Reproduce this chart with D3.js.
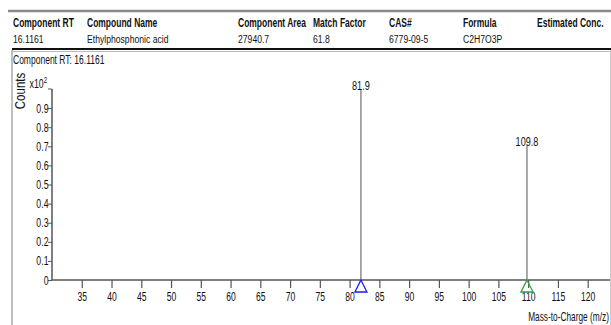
<!DOCTYPE html>
<html>
<head>
<meta charset="utf-8">
<script src="https://cdn.jsdelivr.net/npm/d3@7"></script>
<style>
  html, body { margin: 0; padding: 0; background: #fff; }
  svg { display: block; }
  text { font-family: "Liberation Sans", Arial, sans-serif; fill: #111; }
</style>
</head>
<body>
<svg id="chart" width="611" height="325"></svg>
<script>
// Compound summary table
const headerLabels = ["Component RT", "Compound Name", "Component Area", "Match Factor", "CAS#", "Formula", "Estimated Conc."];
const headerValues = ["16.1161", "Ethylphosphonic acid", "27940.7", "61.8", "6779-09-5", "C2H7O3P", ""];

// Spectrum peaks (m/z and relative abundance, x10^2 counts)
const peakMz = [81.9, 109.8];
const peakCounts = [1.0, 0.705];
const peakMarkerColors = ["#1a1aff", "#2ea043"];

// Axis ticks
const xTicks = [35, 40, 45, 50, 55, 60, 65, 70, 75, 80, 85, 90, 95, 100, 105, 110, 115, 120];
const yTicks = [0, 0.1, 0.2, 0.3, 0.4, 0.5, 0.6, 0.7, 0.8, 0.9];

// Narrow report typeface: regular sans squeezed horizontally
const svg = d3.select("#chart");

function label(parent, x0, y0, txt, opts = {}) {
  const t = parent.append("text")
    .attr("transform", `translate(${x0},${y0}) scale(${opts.sq || 0.75},1)`)
    .attr("font-size", opts.size || 11.5)
    .attr("text-anchor", opts.anchor || "start")
    .text(txt);
  if (opts.bold) t.attr("font-weight", "bold");
  return t;
}

// Header: grey rule, column labels and values
const colX = [13, 87, 238, 313, 389, 463, 537];
svg.append("line").attr("x1", 8).attr("x2", 611).attr("y1", 11).attr("y2", 11)
  .attr("stroke", "#8a8a8a").attr("stroke-width", 2.5);

headerLabels.forEach((d, i) => label(svg, colX[i], 27, d, { size: 12.5, bold: true, sq: 0.68 }));
headerValues.forEach((d, i) => { if (d) label(svg, colX[i], 43, d, { size: 11.5, sq: 0.75 }); });

// Spectrum panel frame
svg.append("line").attr("x1", 12).attr("x2", 611).attr("y1", 49).attr("y2", 49)
  .attr("stroke", "#111").attr("stroke-width", 2);
svg.append("line").attr("x1", 12).attr("x2", 611).attr("y1", 51.5).attr("y2", 51.5)
  .attr("stroke", "#bbb").attr("stroke-width", 1);
svg.append("line").attr("x1", 12).attr("x2", 12).attr("y1", 50).attr("y2", 325)
  .attr("stroke", "#aaa").attr("stroke-width", 1.5);
svg.append("line").attr("x1", 610.5).attr("x2", 610.5).attr("y1", 50).attr("y2", 325)
  .attr("stroke", "#ccc").attr("stroke-width", 1);

label(svg, 13, 64, "Component RT: 16.1161", { size: 12, sq: 0.71 });

// Scales
const x = d3.scaleLinear().domain([30, 123.75]).range([52, 610]);
const y = d3.scaleLinear().domain([0, 1.0]).range([280, 89]);

// Y axis
const yAxis = d3.axisLeft(y).tickValues(yTicks).tickSize(4).tickPadding(1)
  .tickFormat(d => d === 0 ? "0" : d3.format(".1f")(d));
const gy = svg.append("g").attr("transform", `translate(${x(30)},0)`).call(yAxis);
gy.select(".domain").attr("stroke", "#555").attr("stroke-width", 1.5)
  .attr("d", `M0,${y(1.0)}V${y(0)}`);
gy.selectAll(".tick line").attr("stroke", "#555");
gy.selectAll(".tick text").attr("font-size", 12.5).attr("fill", "#222")
  .attr("font-family", "Liberation Sans, Arial, sans-serif")
  .attr("transform", "scale(0.7,1)");

// Top tick with exponent label
gy.append("line").attr("x1", -4).attr("x2", 0).attr("y1", y(1.0)).attr("y2", y(1.0)).attr("stroke", "#555");
const exp = label(svg, 47, y(1.0) - 1, "", { size: 12.5, anchor: "end", sq: 0.7 });
exp.append("tspan").text("x10");
exp.append("tspan").attr("dy", -5).attr("font-size", 8.5).text("2");

svg.append("text")
  .attr("transform", "translate(25,91) rotate(-90) scale(0.82,1)")
  .attr("text-anchor", "middle").attr("font-size", 14)
  .text("Counts");

// X axis
const xAxis = d3.axisBottom(x).tickValues(xTicks).tickSize(8).tickPadding(4).tickFormat(d3.format("d"));
const gx = svg.append("g").attr("transform", `translate(0,${y(0)})`).call(xAxis);
gx.select(".domain").attr("stroke", "#555").attr("stroke-width", 1.5)
  .attr("d", `M${x(30)},0H${x(123.75)}`);
gx.selectAll(".tick line").attr("stroke", "#555").attr("stroke-width", 1.2);
gx.selectAll(".tick text").attr("font-size", 13).attr("fill", "#222")
  .attr("font-family", "Liberation Sans, Arial, sans-serif")
  .attr("transform", "scale(0.66,1)");

label(svg, 609, 321, "Mass-to-Charge (m/z)", { size: 13, anchor: "end", sq: 0.64 });

// Peaks
const peaks = peakMz.map((m, i) => ({ mz: m, v: peakCounts[i], c: peakMarkerColors[i] }));
svg.selectAll("line.peak").data(peaks).join("line")
  .attr("class", "peak")
  .attr("x1", d => x(d.mz)).attr("x2", d => x(d.mz))
  .attr("y1", y(0)).attr("y2", d => y(d.v))
  .attr("stroke", "#8c8c8c").attr("stroke-width", 1.5);

peaks.forEach(d => label(svg, x(d.mz), y(d.v) + 1, d.mz.toFixed(1), { size: 13, anchor: "middle", sq: 0.7 }));

// Ion markers below the axis
svg.selectAll("path.marker").data(peaks).join("path")
  .attr("class", "marker")
  .attr("d", d => {
    const cx = x(d.mz), top = y(0);
    return `M${cx},${top}L${cx + 6},${top + 12}L${cx - 6},${top + 12}Z`;
  })
  .attr("fill", "none").attr("stroke", d => d.c).attr("stroke-width", 1.3);
</script>
</body>
</html>
